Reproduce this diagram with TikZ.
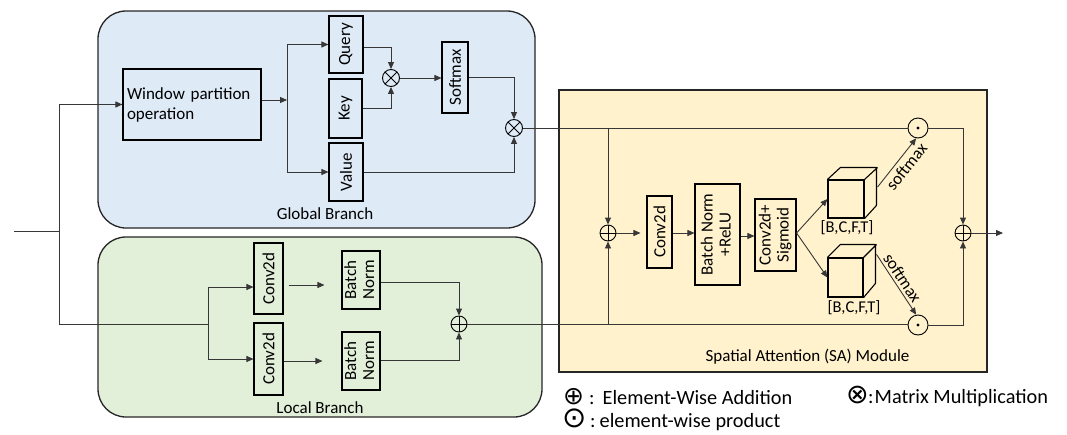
\documentclass[tikz,border=0pt]{standalone}
\usepackage{fontspec}
\setmainfont{Carlito}
\newfontfamily\symf{DejaVu Sans}
\usetikzlibrary{arrows.meta}
\definecolor{gfill}{RGB}{222,234,246}
\definecolor{lfill}{RGB}{226,239,217}
\definecolor{sfill}{RGB}{255,242,204}
\definecolor{ln}{RGB}{55,55,55}
\newcommand{\rt}[1]{\rotatebox{90}{#1}}
\newcommand{\two}[2]{\rotatebox{90}{\begin{tabular}{@{}c@{}}#1\\[-2pt]#2\end{tabular}}}
\begin{document}
\begin{tikzpicture}[x=1pt,y=-1pt,
  every node/.style={font=\fontsize{17}{20}\selectfont},
  cont/.style={draw=black!85, line width=1.3pt, rounded corners=28pt, inner sep=0},
  blk/.style={draw=black, line width=1.1pt, inner sep=0, align=center},
  con/.style={draw=ln, line width=0.9pt},
  arr/.style={con, -{Triangle[length=7pt,width=6pt]}},
  opc/.style={circle, draw=black, line width=0.9pt, inner sep=0, minimum size=17pt},
  oplus/.style={opc, path picture={\draw[line width=0.8pt] (path picture bounding box.north) -- (path picture bounding box.south) (path picture bounding box.west) -- (path picture bounding box.east);}},
  otimes/.style={opc, path picture={\draw[line width=0.8pt] (path picture bounding box.north west) -- (path picture bounding box.south east) (path picture bounding box.north east) -- (path picture bounding box.south west);}},
  odot/.style={opc, minimum size=20pt, path picture={\fill (path picture bounding box.center) circle (1.6pt);}},
  legt/.style={anchor=base west, inner sep=0, font=\fontsize{20.3}{22}\selectfont},
  legs/.style={inner sep=0, font=\symf\fontsize{#1}{#1}\selectfont}
]
\useasboundingbox (0,0) rectangle (1067,434);

% containers
\node[cont, fill=gfill, minimum width=437pt, minimum height=217pt] (gb) at (316.5,119.5) {};
\node[cont, fill=lfill, minimum width=444pt, minimum height=180pt] (lb) at (320,327) {};
\node[draw=black!85, line width=1.3pt, fill=sfill, inner sep=0, minimum width=428pt, minimum height=282pt] (sa) at (773,231) {};
\node (gbt) at (325,214) {Global Branch};
\node (lbt) at (320,408) {Local Branch};
\node (sat) at (807.5,357) {Spatial Attention (SA) Module};

% global branch
\node[blk, minimum width=138pt, minimum height=71pt, text width=130pt, align=left] (win) at (192,104.5) {Window partition\\operation};
\node[blk, minimum width=34pt, minimum height=57pt] (q) at (346,44.5) {\rt{Query}};
\node[blk, minimum width=33pt, minimum height=59pt] (k) at (345.5,108.5) {\rt{Key}};
\node[blk, minimum width=34pt, minimum height=58pt] (v) at (346,172) {\rt{Value}};
\node[otimes] (ot1) at (391,78) {};
\node[blk, minimum width=26pt, minimum height=71pt] (sm) at (455,77.5) {\rt{Softmax}};
\node[otimes] (ot2) at (514,128) {};

% local branch
\node[blk, minimum width=29pt, minimum height=71pt] (c1) at (268.5,278.5) {\rt{Conv2d}};
\node[blk, minimum width=29pt, minimum height=72pt] (c2) at (268.5,359) {\rt{Conv2d}};
\node[blk, minimum width=38pt, minimum height=58pt] (b1) at (361,280) {\two{Batch}{Norm}};
\node[blk, minimum width=38pt, minimum height=58pt] (b2) at (361,361) {\two{Batch}{Norm}};
\node[oplus, minimum size=16pt] (op1) at (459,324) {};

% SA module
\node[oplus, minimum size=16pt] (op2) at (608,233) {};
\node[blk, minimum width=25pt, minimum height=72pt] (sc) at (659.5,232) {\rt{Conv2d}};
\node[blk, minimum width=45pt, minimum height=101pt] (bn) at (717.5,234.5) {\two{Batch Norm}{+ReLU}};
\node[blk, minimum width=41pt, minimum height=72pt] (sg) at (775.5,235) {\two{Conv2d+}{Sigmoid}};
\node[blk, minimum width=36pt, minimum height=38pt] (cb1) at (846,199) {};
\draw[line width=1.1pt, line join=round] (cb1.north west) -- ++(13,-12) -- ++(36,0) -- ++(0,38) -- (cb1.south east) (cb1.north east) -- ++(13,-12);
\node[blk, minimum width=35pt, minimum height=39pt] (cb2) at (845.5,277.5) {};
\draw[line width=1.1pt, line join=round] (cb2.north west) -- ++(13,-13) -- ++(35,0) -- ++(0,39) -- (cb2.south east) (cb2.north east) -- ++(13,-13);
\node[font=\fontsize{16.5}{18}\selectfont, inner sep=0] (l1) at (847,228) {[B,C,F,T]};
\node[font=\fontsize{16.5}{18}\selectfont, inner sep=0] (l2) at (854,308) {[B,C,F,T]};
\node[odot] (od1) at (918,128) {};
\node[odot] (od2) at (918,325) {};
\node[oplus, minimum size=16pt] (op3) at (963,233) {};

\coordinate (in) at (14,231);
\coordinate (j0) at (59,231);
\coordinate (gs) at (287,100);
\coordinate (ls) at (208,324);
\coordinate (out) at (1003,233);

% connectors
\draw[con] (in) -- (j0);
\draw[arr] (j0) |- (win.west);
\draw[con] (j0) |- (ls);
\draw[arr] ([yshift=4.5pt]win.east) -- (gs);
\draw[arr] (gs) |- (q.west);
\draw[arr] (gs) |- (v.west);
\draw[arr] ([yshift=-2.5pt]q.east) -| (ot1.north);
\draw[arr] (k.east) -| (ot1.south);
\draw[arr] (ot1.east) -- (ot1.east -| sm.west);
\draw[arr] (sm.east) -| (ot2.north);
\draw[arr] (v.east) -| (ot2.south);
\draw[con] (ot2.east) -- (od1.west);
\draw[arr] (op2.north |- ot2.east) -- (op2.north);

\draw[arr] (ls) |- ([yshift=-8.5pt]c1.west);
\draw[arr] (ls) |- (c2.west);
\draw[arr, shorten <=5pt] ([yshift=-6.5pt]c1.east) -- ([yshift=-5pt,xshift=-17pt]b1.west);
\draw[arr] ([yshift=-2pt]c2.east) -- ([xshift=-19pt]b2.west);
\draw[arr] ([yshift=-2pt]b1.east) -| (op1.north);
\draw[arr] ([yshift=1pt]b2.east) -| (op1.south);
\draw[con] (op1.east) -- (op1.east -| od2.west);
\draw[arr] (op2.south |- op1.east) -- (op2.south);

\draw[arr, shorten >=6pt] (op2.east) -- (op2.east -| sc.west);
\draw[arr] (sc.east |- 0,233) -- (bn.west |- 0,233);
\draw[arr] (bn.east |- 0,236) -- (sg.west |- 0,236);
\draw[arr] (sg.east |- 0,233) -- (cb1.west);
\draw[arr] (sg.east |- 0,233) -- (cb2.west);
\draw[arr] ([shift={(13pt,12pt)}]cb1.east) -- (od1.260) node[pos=0.55, below, sloped, inner sep=3.5pt] {softmax};
\draw[arr] ([shift={(13pt,3pt)}]cb2.north east) -- (od2.100) node[pos=0.47, above, sloped, inner sep=2.5pt] {softmax};
\draw[arr] (od1.east) -| (op3.north);
\draw[arr] (od2.east) -| (op3.south);
\draw[arr] (op3.east) -- (out);

% legend
\node[legs=25] (s1) at (573.5,397) {⊕};
\node[legt] (t1) at (589,404.5) {:\hspace{8pt}Element-Wise Addition};
\node[legs=29] (s2) at (574.5,418.5) {⊙};
\node[legt] (t2) at (590,427) {:\hspace{4pt}element-wise product};
\node[legs=27] (s3) at (857.5,395.5) {⊗};
\node[legt] (t3) at (868,403.5) {:\hspace{1pt}Matrix Multiplication};
\end{tikzpicture}
\end{document}
